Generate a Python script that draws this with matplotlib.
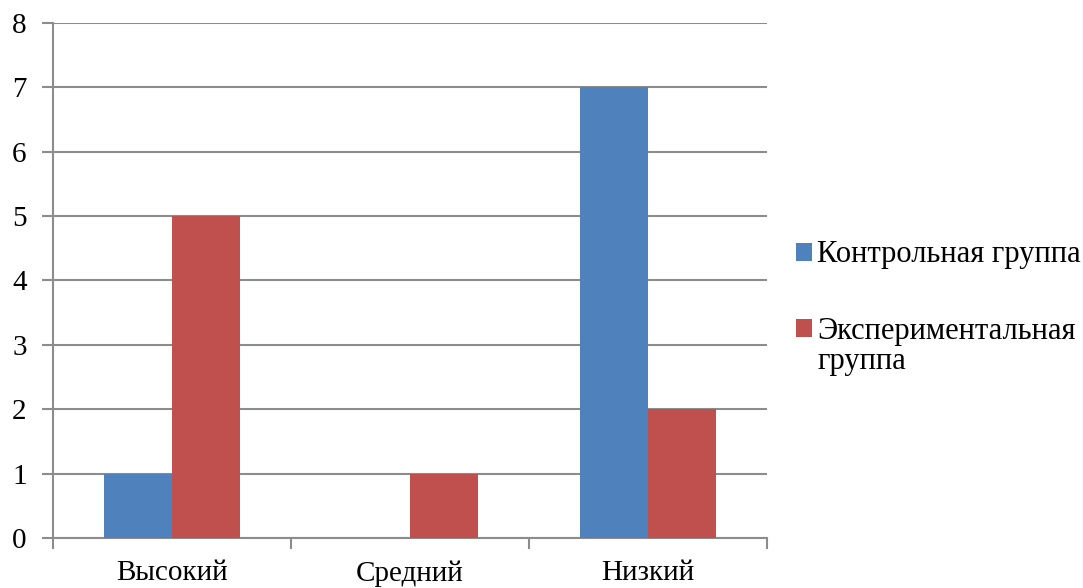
import matplotlib
matplotlib.use("Agg")
import matplotlib.pyplot as plt
from matplotlib.patches import Patch
import numpy as np

categories = ["Высокий", "Средний", "Низкий"]
control = [1, 0, 7]
experimental = [5, 1, 2]
series_labels = ["Контрольная группа", "Экспериментальная", "группа"]
colors = ["#4F81BD", "#C0504D"]
yticks = list(range(0, 9))

plt.rcParams['font.family'] = ['Liberation Serif', 'DejaVu Serif']

W, H = 1083, 588
fig = plt.figure(figsize=(W / 100, H / 100), dpi=100)
ax = fig.add_axes([0.049, 0.085, 0.659, 0.876])

x = np.arange(len(categories))
w = 0.285
ax.bar(x - w / 2, control, width=w, color=colors[0], zorder=3)
ax.bar(x + w / 2, experimental, width=w, color=colors[1], zorder=3)

ax.set_xlim(-0.5, len(categories) - 0.5)
ax.set_ylim(0, 8)
ax.set_yticks(yticks)
ax.yaxis.grid(True, color="#8C8C8C", linewidth=1.5, zorder=0)
ax.set_axisbelow(True)

ax.set_xticks(x)
ax.set_xticklabels(categories, fontsize=21)
ax.set_xticks(np.arange(-0.5, len(categories)), minor=True)
ax.tick_params(axis='x', which='major', length=0, pad=16)
ax.tick_params(axis='x', which='minor', length=8, width=1.5, color="#8C8C8C")
ax.tick_params(axis='y', length=8, width=1.5, color="#8C8C8C", labelsize=21, pad=11)

for s in ["top", "right"]:
    ax.spines[s].set_visible(False)
for s in ["left", "bottom"]:
    ax.spines[s].set_color("#8C8C8C")
    ax.spines[s].set_linewidth(1.5)

handles = [Patch(facecolor=c, edgecolor='none') for c in colors]
leg = fig.legend(handles, series_labels[:2], loc="upper left", bbox_to_anchor=(0.735, 0.591),
                 frameon=False, fontsize=22, handlelength=0.52, handleheight=0.52,
                 handletextpad=0.18, labelspacing=1.55, borderaxespad=0, borderpad=0)

fig.canvas.draw()
bb = leg.get_texts()[1].get_window_extent()
fig.text(bb.x0 / W, (bb.y0 - 30) / H, series_labels[2], fontsize=22,
         ha='left', va='bottom')

fig.savefig("out.png", dpi=100)
